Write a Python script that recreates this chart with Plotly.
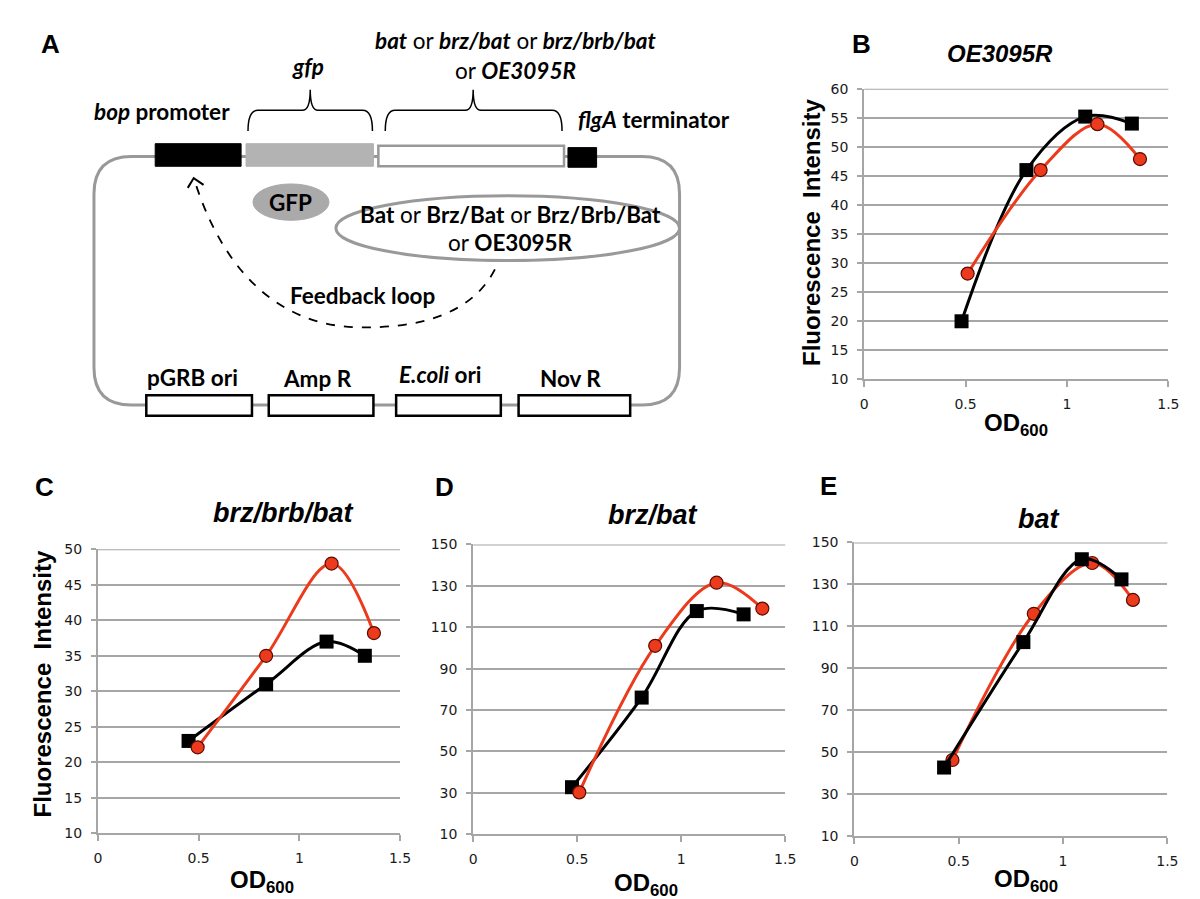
import plotly.graph_objects as go

W, H = 1200, 899

# ---------------- data ----------------
tick_x_vals = [0, 0.5, 1, 1.5]
tick_x_text = ["0", "0.5", "1", "1.5"]

# Panel B: OE3095R
b_black_od = [0.48, 0.80, 1.09, 1.32]
b_black_fi = [20, 46, 55.2, 54]
b_red_od = [0.51, 0.87, 1.15, 1.36]
b_red_fi = [28.2, 46, 53.9, 47.9]

# Panel C: brz/brb/bat
c_black_od = [0.45, 0.835, 1.135, 1.325]
c_black_fi = [23, 31, 37, 35]
c_red_od = [0.495, 0.835, 1.16, 1.37]
c_red_fi = [22.1, 35, 48, 38.2]

# Panel D: brz/bat
d_black_od = [0.475, 0.81, 1.075, 1.30]
d_black_fi = [32.7, 76, 117.8, 116.2]
d_red_od = [0.51, 0.875, 1.17, 1.39]
d_red_fi = [30.2, 101, 131.5, 119]

# Panel E: bat
e_black_od = [0.43, 0.81, 1.09, 1.28]
e_black_fi = [42.7, 102.5, 142, 132.4]
e_red_od = [0.47, 0.86, 1.14, 1.335]
e_red_fi = [46.3, 116, 140.2, 122.6]

panel_titles = ["OE3095R", "brz/brb/bat", "brz/bat", "bat"]
y_ranges = [(10, 60, 5), (10, 50, 5), (10, 150, 20), (10, 150, 20)]

# ---------------- helpers ----------------
def px(x):
    return x / W

def py(y):
    return 1 - y / H

RED = "#ec3a1c"
GRID = "#a6a6a6"
TXT = "#1a1a1a"
TICKFONT = dict(family="DejaVu Sans", size=14, color=TXT)

fig = go.Figure()

# plot areas in pixels: (x0, x1, ytop, ybottom)
areas = [(863, 1171, 74, 370), (87, 393, 543, 832), (467, 783, 538, 833), (853, 1170, 536, 835)]
series = [
    (b_black_od, b_black_fi, b_red_od, b_red_fi, False),
    (c_black_od, c_black_fi, c_red_od, c_red_fi, False),
    (d_black_od, d_black_fi, d_red_od, d_red_fi, False),
    (e_black_od, e_black_fi, e_red_od, e_red_fi, True),
]

for i, ((x0, x1, yt, yb), (bx, by, rx, ry, black_top), (ymin, ymax, dt)) in enumerate(zip(areas, series, y_ranges)):
    n = i + 1
    xa = "x" if n == 1 else f"x{n}"
    ya = "y" if n == 1 else f"y{n}"
    black = go.Scatter(x=bx, y=by, mode="lines+markers", xaxis=xa, yaxis=ya,
                       line=dict(color="black", width=3, shape="spline", smoothing=1.0),
                       marker=dict(symbol="square", size=14, color="black"),
                       showlegend=False, cliponaxis=False)
    red = go.Scatter(x=rx, y=ry, mode="lines+markers", xaxis=xa, yaxis=ya,
                     line=dict(color=RED, width=3, shape="spline", smoothing=1.0),
                     marker=dict(symbol="circle", size=13, color=RED,
                                 line=dict(color="#5a0a00", width=1.2)),
                     showlegend=False, cliponaxis=False)
    if black_top:
        fig.add_trace(red)
        fig.add_trace(black)
    else:
        fig.add_trace(black)
        fig.add_trace(red)

    xkey = "xaxis" if n == 1 else f"xaxis{n}"
    ykey = "yaxis" if n == 1 else f"yaxis{n}"
    fig.layout[xkey] = dict(domain=[px(x0), px(x1)], anchor=ya, range=[0, 1.5],
                            tickvals=tick_x_vals, ticktext=tick_x_text,
                            showgrid=False, zeroline=False, showline=True,
                            linecolor=GRID, linewidth=2, ticks="outside",
                            ticklen=6, tickwidth=2, tickcolor=GRID,
                            tickfont=TICKFONT, ticklabelstandoff=5, fixedrange=True)
    fig.layout[ykey] = dict(domain=[py(yb), py(yt)], anchor=xa, range=[ymin, ymax],
                            tick0=ymin, dtick=dt, showgrid=True, gridcolor=GRID,
                            gridwidth=2, zeroline=False, showline=True,
                            linecolor=GRID, linewidth=2, ticks="outside",
                            ticklen=5, tickwidth=2, tickcolor=GRID,
                            tickfont=TICKFONT, ticklabelstandoff=6, fixedrange=True)
    fig.add_shape(type="line", xref=f"{xa} domain", yref=ya, x0=0, x1=1, y0=ymax, y1=ymax,
                  line=dict(color=GRID, width=2), layer="below")

annotations = []

def ann(text, x, y, size, family="Liberation Sans", angle=0, color="black"):
    annotations.append(dict(text=text, x=px(x), y=py(y), xref="paper", yref="paper",
                            showarrow=False, xanchor="center", yanchor="middle",
                            textangle=angle, font=dict(family=family, size=size, color=color)))

# panel letters
for letter, (lx, ly) in zip("ABCDE", [(39, 29), (860, 29), (33, 480), (438, 480), (827, 479)]):
    ann(f"<b>{letter}</b>", lx, ly, 26)

# chart titles
for t, (tx, ty), fs in zip(panel_titles, [(1001, 38), (275, 506), (649, 508), (1040, 512)], [24, 27, 27, 27]):
    ann(f"<b><i>{t}</i></b>", tx, ty, fs)

# axis titles
for (ox, oy) in [(1017, 416), (253, 881), (642, 884), (1027, 880)]:
    ann("<b>OD<sub>600</sub></b>", ox, oy, 24)
for (fx, fy) in [(809, 220), (31, 680)]:
    ann("<b>Fluorescence  Intensity</b>", fx, fy, 24, angle=-90)

# ---------------- panel A diagram ----------------
shapes = []

def rect(x0, y0, x1, y1, fill, line_color, lw):
    shapes.append(dict(type="rect", xref="paper", yref="paper", x0=px(x0), x1=px(x1),
                       y0=py(y1), y1=py(y0), fillcolor=fill,
                       line=dict(color=line_color, width=lw)))

def path(d, color, lw, dash="solid"):
    shapes.append(dict(type="path", xref="paper", yref="paper", path=d,
                       line=dict(color=color, width=lw, dash=dash),
                       fillcolor="rgba(0,0,0,0)"))

def P(x, y):
    return f"{px(x):.5f},{py(y):.5f}"

# plasmid backbone (rounded rectangle)
L, R, T, B, r = 83, 676, 143, 396, 38
bb = (f"M {P(L + r, T)} L {P(R - r, T)} Q {P(R, T)} {P(R, T + r)} L {P(R, B - r)} "
      f"Q {P(R, B)} {P(R - r, B)} L {P(L + r, B)} Q {P(L, B)} {P(L, B - r)} "
      f"L {P(L, T + r)} Q {P(L, T)} {P(L + r, T)} Z")
path(bb, "#999999", 3)

# top cassette
rect(145, 130, 232, 153, "black", "black", 1)
rect(237, 130, 366, 153, "#b3b3b3", "#b3b3b3", 1)
rect(371, 132, 559, 153, "white", "#999999", 2.5)
rect(563, 134, 592, 154, "black", "black", 1)

# bottom elements
for (x0, x1) in [(136, 243), (260, 366), (389, 495), (513, 626)]:
    rect(x0, 386, x1, 407, "white", "black", 2.5)

# braces
def brace(x0, x1, xm, ytip=117, ybar=96, ypeak=75):
    d = (f"M {P(x0, ytip)} Q {P(x0, ybar)} {P(x0 + 10, ybar)} L {P(xm - 8, ybar)} "
         f"Q {P(xm, ybar)} {P(xm, ypeak)} Q {P(xm, ybar)} {P(xm + 8, ybar)} "
         f"L {P(x1 - 10, ybar)} Q {P(x1, ybar)} {P(x1, ytip)}")
    path(d, "black", 1.5)

brace(239, 365, 302)
brace(378, 557, 467)

# ellipses
shapes.append(dict(type="circle", xref="paper", yref="paper", x0=px(244), x1=px(321),
                   y0=py(208), y1=py(171), fillcolor="#aaaaaa", line=dict(color="#aaaaaa", width=1)))
shapes.append(dict(type="circle", xref="paper", yref="paper", x0=px(328), x1=px(676),
                   y0=py(249), y1=py(183), fillcolor="rgba(0,0,0,0)", line=dict(color="#999999", width=3)))

# feedback loop dashed arrow
fb = (f"M {P(489, 258)} C {P(465, 305)} {P(410, 318)} {P(350, 317)} "
      f"C {P(270, 315)} {P(215, 260)} {P(186, 171)}")
path(fb, "black", 1.8, dash="dash")
path(f"M {P(178, 175)} L {P(184, 165)} L {P(194, 172)}", "black", 2)

AF = "Lato"
FS = 22.5
ann("<b><i>gfp</i></b>", 300, 51, FS, family=AF)
ann("<b><i>bat</i></b> or <b><i>brz/bat</i></b> or <b><i>brz/brb/bat</i></b>", 510, 25, FS, family=AF)
ann("or <b><i>OE3095R</i></b>", 510, 55, FS, family=AF)
ann("<b><i>bop</i> promoter</b>", 152, 97, FS, family=AF)
ann("<b><i>flgA</i> terminator</b>", 650, 105, FS, family=AF)
ann("<b>GFP</b>", 282, 190, FS, family=AF)
ann("<b>Bat</b> or <b>Brz/Bat</b> or <b>Brz/Brb/Bat</b>", 505, 202, FS, family=AF)
ann("or <b>OE3095R</b>", 505, 231, FS, family=AF)
ann("<b>Feedback loop</b>", 355, 285, FS, family=AF)
ann("<b>pGRB ori</b>", 183, 368, FS, family=AF)
ann("<b>Amp R</b>", 309, 369, FS, family=AF)
ann("<b><i>E.coli</i> ori</b>", 434, 365, FS, family=AF)
ann("<b>Nov R</b>", 566, 369, FS, family=AF)

fig.update_layout(width=W, height=H, margin=dict(l=0, r=0, t=0, b=0),
                  paper_bgcolor="white", plot_bgcolor="white",
                  annotations=annotations, showlegend=False)
for s in shapes:
    fig.add_shape(**s)

fig.write_html("out.html")
